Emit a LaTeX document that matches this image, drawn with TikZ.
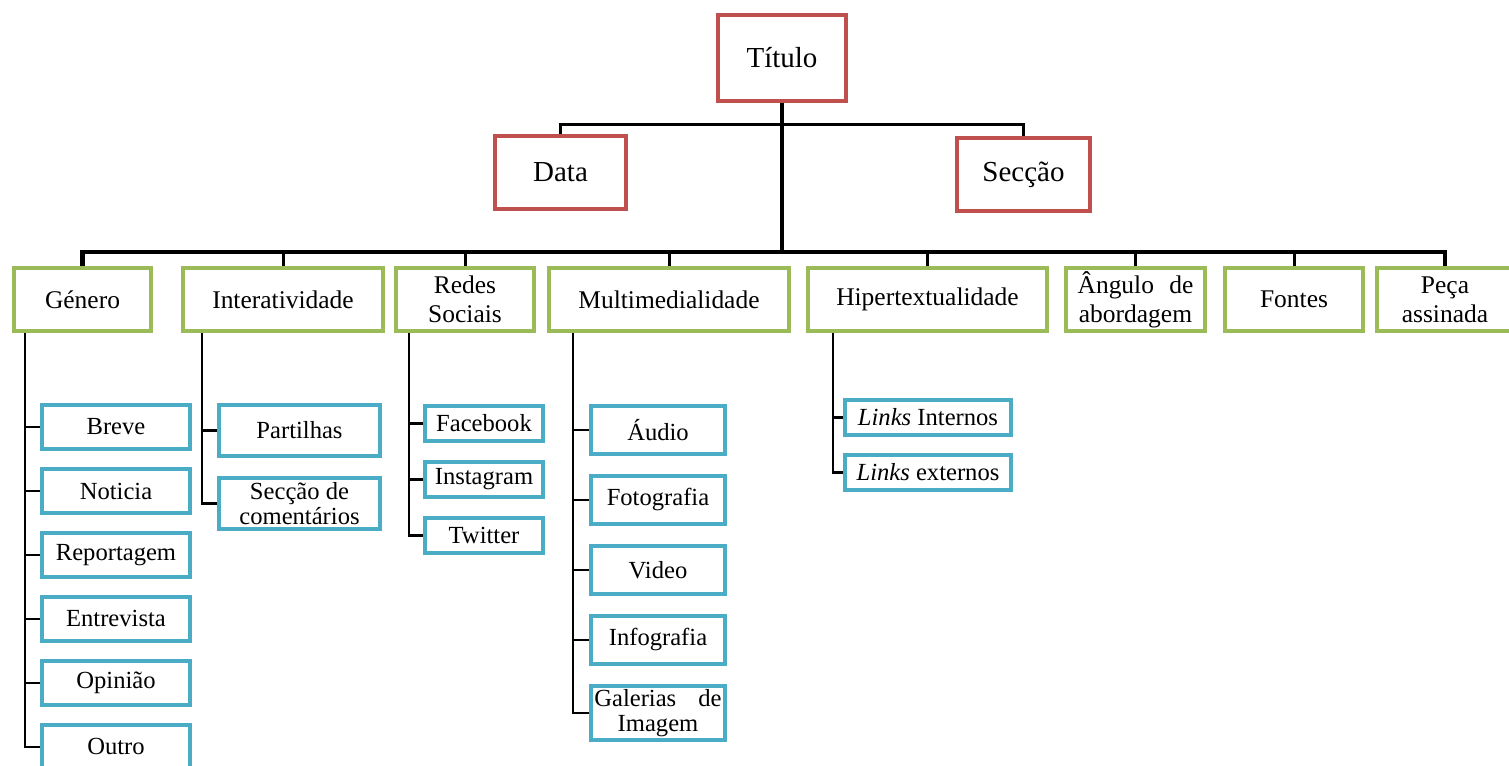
\documentclass[tikz,border=0pt]{standalone}
\usepackage{fontspec}
\setmainfont{Liberation Serif}
\usetikzlibrary{positioning}

\definecolor{boxred}{HTML}{C0504D}
\definecolor{boxgreen}{HTML}{9BBB59}
\definecolor{boxblue}{HTML}{4BACC6}

\tikzset{
  box/.style={draw, line width=0.08cm, inner sep=0pt, align=center},
  redbox/.style={box, draw=boxred, font=\fontsize{16.5}{19}\selectfont},
  greenbox/.style={box, draw=boxgreen, minimum height=1.26cm, font=\fontsize{14.5}{16.5}\selectfont},
  bluebox/.style={box, draw=boxblue, font=\fontsize{14}{14.5}\selectfont},
  bus/.style={line width=0.09cm},
  drop/.style={line width=0.06cm},
  branch/.style={line width=0.05cm}
}

\begin{document}
\begin{tikzpicture}[x=0.02cm, y=-0.02cm]
\useasboundingbox (0,0) rectangle (1509,766);

% top level
\node[redbox, minimum width=2.56cm, minimum height=1.72cm] (titulo) at (782,58) {Título};
\node[redbox, minimum width=2.62cm, minimum height=1.46cm] (data) at (560.5,172.5) {Data};
\node[redbox, minimum width=2.66cm, minimum height=1.46cm] (seccao) at (1023.5,174.5) {Secção};

% categories
\node[greenbox, minimum width=2.74cm] (genero) at (82.5,299.5) {Género};
\node[greenbox, minimum width=4.00cm] (interat) at (283,299.5) {Interatividade};
\node[greenbox, minimum width=2.76cm] (redes) at (465,299.5) {Redes\\Sociais};
\node[greenbox, minimum width=4.80cm] (multi) at (669,299.5) {Multimedialidade};
\node[greenbox, minimum width=4.78cm] (hiper) at (927.5,299.5) {Hipertextualidade};
\node[greenbox, minimum width=2.78cm] (angulo) at (1135.5,299.5) {Ângulo\hspace{0.6em}de\\abordagem};
\node[greenbox, minimum width=2.76cm] (fontes) at (1294,299.5) {Fontes};
\node[greenbox, minimum width=2.74cm] (peca) at (1445,299.5) {Peça\\assinada};

% genero
\node[bluebox, minimum width=2.96cm, minimum height=0.88cm] (breve) at (116,427) {Breve};
\node[bluebox, minimum width=2.96cm, minimum height=0.88cm, below=0.32cm of breve] (noticia) {Noticia};
\node[bluebox, minimum width=2.96cm, minimum height=0.88cm, below=0.32cm of noticia] (reportagem) {Reportagem};
\node[bluebox, minimum width=2.96cm, minimum height=0.88cm, below=0.32cm of reportagem] (entrevista) {Entrevista};
\node[bluebox, minimum width=2.96cm, minimum height=0.88cm, below=0.32cm of entrevista] (opiniao) {Opinião};
\node[bluebox, minimum width=2.96cm, minimum height=0.88cm, below=0.32cm of opiniao] (outro) {Outro};

% interatividade
\node[bluebox, minimum width=3.22cm, minimum height=1.02cm] (partilhas) at (299.5,430.5) {Partilhas};
\node[bluebox, minimum width=3.22cm, minimum height=1.02cm, below=0.36cm of partilhas] (comentarios) {Secção de\\comentários};

% redes sociais
\node[bluebox, minimum width=2.36cm, minimum height=0.70cm] (facebook) at (484,423.5) {Facebook};
\node[bluebox, minimum width=2.36cm, minimum height=0.70cm, below=0.34cm of facebook] (instagram) {Instagram};
\node[bluebox, minimum width=2.36cm, minimum height=0.70cm, below=0.34cm of instagram] (twitter) {Twitter};

% multimedialidade
\node[bluebox, minimum width=2.68cm, minimum height=0.96cm] (audio) at (658,430) {Áudio};
\node[bluebox, minimum width=2.68cm, minimum height=0.96cm, below=0.36cm of audio] (fotografia) {Fotografia};
\node[bluebox, minimum width=2.68cm, minimum height=0.96cm, below=0.36cm of fotografia] (video) {Video};
\node[bluebox, minimum width=2.68cm, minimum height=0.96cm, below=0.36cm of video] (infografia) {Infografia};
\node[bluebox, minimum width=2.68cm, minimum height=1.08cm, below=0.36cm of infografia] (galerias) {Galerias\hspace{0.9em}de\\Imagem};

% hipertextualidade
\node[bluebox, minimum width=3.32cm, minimum height=0.70cm] (internos) at (928,417.5) {\textit{Links} Internos};
\node[bluebox, minimum width=3.32cm, minimum height=0.70cm, below=0.32cm of internos] (externos) {\textit{Links} externos};

% trunk
\coordinate (topbar) at (782,125);
\coordinate (bus) at (782,252);
\draw[bus] (titulo.south) -- (bus);
\draw[drop] (data.north) |- (topbar) -| (seccao.north);
\draw[bus] (genero.north) |- (bus) -| (peca.north);
\foreach \n in {interat, redes, multi, hiper, angulo, fontes}
  \draw[drop] (\n.north) -- (\n.north |- bus);

% branches
\coordinate (gbr) at ([xshift=0.26cm]genero.south west);
\draw[branch] (gbr) |- (outro.west);
\foreach \n in {breve, noticia, reportagem, entrevista, opiniao}
  \draw[branch] (\n.west) -- (\n.west -| gbr);

\coordinate (ibr) at ([xshift=0.42cm]interat.south west);
\draw[branch] (ibr) |- (comentarios.west);
\draw[branch] (partilhas.west) -- (partilhas.west -| ibr);

\coordinate (rbr) at ([xshift=0.30cm]redes.south west);
\draw[branch] (rbr) |- (twitter.west);
\foreach \n in {facebook, instagram}
  \draw[branch] (\n.west) -- (\n.west -| rbr);

\coordinate (mbr) at ([xshift=0.52cm]multi.south west);
\draw[branch] (mbr) |- (galerias.west);
\foreach \n in {audio, fotografia, video, infografia}
  \draw[branch] (\n.west) -- (\n.west -| mbr);

\coordinate (hbr) at ([xshift=0.54cm]hiper.south west);
\draw[branch] (hbr) |- (externos.west);
\draw[branch] (internos.west) -- (internos.west -| hbr);
\end{tikzpicture}
\end{document}
